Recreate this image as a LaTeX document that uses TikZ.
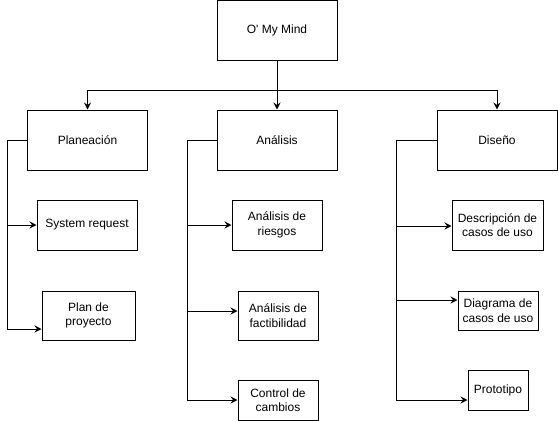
\documentclass[tikz,border=0pt]{standalone}
\usepackage{fontspec}
\setmainfont{Liberation Sans}
\usetikzlibrary{arrows.meta,positioning,calc}

\begin{document}
\begin{tikzpicture}[
    x=1pt, y=-1pt,
    font=\fontsize{12}{14.5}\selectfont,
    phase/.style={rectangle, draw, line width=1pt, minimum width=120pt, minimum height=60pt, inner sep=0pt},
    task/.style={rectangle, draw, line width=1pt, align=center, inner sep=0pt},
    arrow/.style={-{Stealth[length=7pt, width=7pt, inset=2.5pt]}, line width=1pt}
]
\useasboundingbox (0,0) rectangle (558,421);

% Root
\node[phase] (root) at (277,30) {O\textquotesingle{} My Mind};
\coordinate (split) at (277,90);

% Phases
\node[phase] (plan) at (87.5,140) {Planeación};
\node[phase] (anal) at (277,140) {Análisis};
\node[phase] (dis) at (497,140) {Diseño};

% Planeacion tasks
\node[task, minimum width=100pt, minimum height=50pt] (sysreq) at (87,225) {System request};
\node[task, minimum width=93pt, minimum height=49pt] (planproy) at (88.5,315.5) {Plan de\\proyecto};

% Analisis tasks
\node[task, minimum width=90pt, minimum height=50pt] (riesgos) at (277,225) {Análisis de\\riesgos};
\node[task, minimum width=80pt, minimum height=49pt] (factib) at (278,315.5) {Análisis de\\factibilidad};
\node[task, minimum width=80pt, minimum height=40pt] (control) at (278,400) {Control de\\cambios};

% Diseno tasks
\node[task, minimum width=91pt, minimum height=50pt] (desc) at (497.5,225) {Descripción de\\casos de uso};
\node[task, minimum width=80pt, minimum height=39pt] (diag) at (498,310.5) {Diagrama de\\casos de uso};
\node[task, minimum width=60pt, minimum height=40pt] (proto) at (498,390) {Prototipo};

% Arrows
\draw[line width=1pt] (root.south) -- (split);
\draw[arrow] (split) -| (plan.north);
\draw[arrow] (split) -- (anal.north);
\draw[arrow] (split) -| (dis.north);

\draw[arrow] (plan.west) -- ++(-20,0) |- (sysreq.west);
\draw[arrow] (plan.west) -- ++(-20,0) |- ([yshift=-13.5pt]planproy.west);

\draw[arrow] (anal.west) -- ++(-29,0) |- (riesgos.west);
\draw[arrow] (anal.west) -- ++(-29,0) |- ([yshift=4.5pt]factib.west);
\draw[arrow] (anal.west) -- ++(-29,0) |- (control.west);

\draw[arrow] (dis.west) -- ++(-40,0) |- ([yshift=-1pt]desc.west);
\draw[arrow] (dis.west) -- ++(-40,0) |- ([yshift=10.5pt]diag.west);
\draw[arrow] (dis.west) -- ++(-40,0) |- ([yshift=-10pt]proto.west);

\end{tikzpicture}
\end{document}
